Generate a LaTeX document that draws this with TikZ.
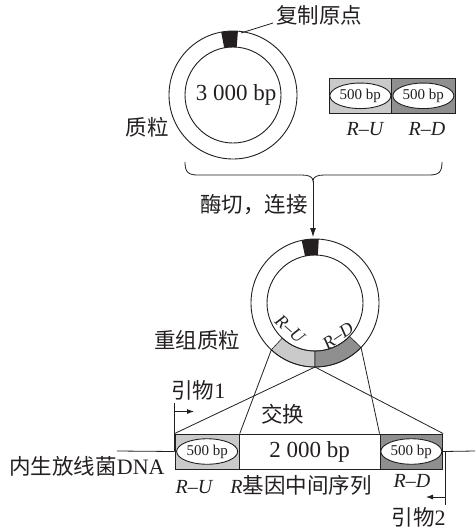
\documentclass[tikz,border=0pt]{standalone}
\usepackage{fontspec}
\setmainfont{Liberation Serif}
\newfontfamily\cjk{Noto Sans CJK SC}
\usetikzlibrary{shapes.geometric,calc,arrows.meta}
\definecolor{lg}{HTML}{CACACA}
\definecolor{dg}{HTML}{8F8F8F}
\definecolor{ink}{HTML}{231F20}
\begin{document}
\begin{tikzpicture}[x=1pt,y=-1pt,line width=0.9pt,draw=ink,text=ink,
  cn/.style={font=\cjk\fontsize{21.5}{22}\selectfont,inner sep=0pt},
  lab/.style={font=\fontsize{20}{20}\selectfont\itshape,inner sep=0pt},
  ringlab/.style={font=\fontsize{18}{18}\selectfont\itshape,inner sep=0pt},
  big/.style={font=\fontsize{23}{23}\selectfont,inner sep=0pt},
  seg/.style={draw,rectangle,inner sep=0pt,minimum height=35pt},
  ell/.style={draw,ellipse,fill=white,inner sep=0pt,minimum width=61pt,minimum height=25.5pt,font=\fontsize{15}{15}\selectfont},
  tip/.style={-{Latex[length=7pt,width=5pt]}}]
\useasboundingbox (0,0) rectangle (475,531);

% ---------- original plasmid ----------
\coordinate (p1) at (233,95);
\fill[ink] ($(p1)+(-85.6:64)$) arc[start angle=-85.6,end angle=-100.6,radius=64]
  -- ($(p1)+(-100.6:48)$) arc[start angle=-100.6,end angle=-85.6,radius=48] -- cycle;
\draw (p1) circle[radius=64];
\draw (p1) circle[radius=48];
\node[big,anchor=base] (size1) at (236,100) {3 000 bp};
\node[cn,anchor=west] (orilab) at (276,15) {复制原点};
\coordinate (orifoot) at (273,23);
\coordinate (oritip) at (241,33);
\draw[line width=0.8pt] (orifoot) -- (oritip);
\node[cn] (plab) at (147,127) {质粒};

% ---------- R-U / R-D fragment ----------
\node[seg,fill=lg,minimum width=62.7pt] (tru) at (360.35,95.8) {};
\node[seg,fill=dg,minimum width=63.3pt] (trd) at (423.35,95.8) {};
\node[ell] (tre1) at (tru) {500 bp};
\node[ell] (tre2) at (trd) {500 bp};
\node[lab,anchor=base] (trul) at (365,135) {R–U};
\node[lab,anchor=base] (trdl) at (427,135) {R–D};

% ---------- brace and arrow ----------
\coordinate (bl) at (185,162);
\coordinate (br) at (442,162);
\coordinate (btip) at (313,181);
\draw[line width=0.8pt] (bl) .. controls (185,172) and (188,175) .. (198,175) -- (302,175)
  .. controls (309,175) and (313,177) .. (btip)
  .. controls (313,177) and (317,175) .. (324,175) -- (429,175)
  .. controls (439,175) and (442,172) .. (br);
\coordinate (atip) at (313,237);
\draw[line width=0.8pt,-{Latex[length=9pt,width=6pt]}] (btip) -- (atip);
\node[cn,anchor=east] (cut) at (308,205) {酶切，连接};

% ---------- recombinant plasmid ----------
\coordinate (p2) at (315,303);
\filldraw[fill=lg,line width=0.6pt] ($(p2)+(133:64)$) arc[start angle=133,end angle=90,radius=64]
  -- ($(p2)+(90:48)$) arc[start angle=90,end angle=133,radius=48] -- cycle;
\filldraw[fill=dg,line width=0.6pt] ($(p2)+(90:64)$) arc[start angle=90,end angle=44,radius=64]
  -- ($(p2)+(44:48)$) arc[start angle=44,end angle=90,radius=48] -- cycle;
\fill[ink] ($(p2)+(-86.6:64)$) arc[start angle=-86.6,end angle=-102,radius=64]
  -- ($(p2)+(-102:48)$) arc[start angle=-102,end angle=-86.6,radius=48] -- cycle;
\draw (p2) circle[radius=64];
\draw (p2) circle[radius=48];
\coordinate (ruL) at ($(p2)+(133:64)$);
\coordinate (bot) at ($(p2)+(90:64)$);
\coordinate (rdR) at ($(p2)+(44:64)$);
\node[ringlab,rotate=-42] (rru) at (290,329) {R–U};
\node[ringlab,rotate=34] (rrd) at (338,336) {R–D};
\node[cn] (rlab) at (197,340) {重组质粒};

% ---------- chromosomal region ----------
\node[seg,fill=lg,minimum width=64.3pt] (bru) at (207.15,451.5) {};
\node[seg,fill=white,minimum width=140.7pt,big] (bmid) at (309.65,451.5) {2 000 bp};
\node[seg,fill=dg,minimum width=62.7pt] (brd) at (411.35,451.5) {};
\node[ell] (bre1) at (bru) {500 bp};
\node[ell] (bre2) at (brd) {500 bp};

\draw[line width=0.8pt] (bru.north west) -- (bot) -- (brd.north east);
\draw[line width=0.8pt] (bru.north east) -- (ruL);
\draw[line width=0.8pt] (brd.north west) -- (rdR);

\coordinate (dnaL) at (117,451);
\coordinate (dnaR) at (475,451);
\draw[line width=0.8pt] (dnaL) -- (bru.west);
\draw[line width=0.8pt] (brd.east) -- (dnaR);

\node[cn] (swap) at (282.5,414) {交换};
\node[anchor=east,inner sep=0pt] (dna) at (165,466) {{\cjk\fontsize{21.5}{22}\selectfont 内生放线菌}\fontsize{22}{22}\selectfont DNA};

% primers
\coordinate (pr1a) at (174,403);
\coordinate (pr1b) at (174,451);
\coordinate (pr1c) at (174,411.5);
\coordinate (pr1d) at (194,411.5);
\draw[line width=0.8pt] (pr1a) -- (pr1b);
\draw[line width=0.8pt,tip] (pr1c) -- (pr1d);
\node[anchor=west,inner sep=0pt] (p1lab) at (171,390) {{\cjk\fontsize{21.5}{22}\selectfont 引物}\fontsize{22}{22}\selectfont 1};

\coordinate (pr2a) at (445,451);
\coordinate (pr2b) at (445,505);
\coordinate (pr2c) at (445,497);
\coordinate (pr2d) at (426,497);
\draw[line width=0.8pt] (pr2a) -- (pr2b);
\draw[line width=0.8pt,tip] (pr2c) -- (pr2d);
\node[anchor=east,inner sep=0pt] (p2lab) at (446,517) {{\cjk\fontsize{21.5}{22}\selectfont 引物}\fontsize{22}{22}\selectfont 2};

% labels under region
\node[lab,anchor=base] (bul) at (194,493) {R–U};
\node[anchor=base west,inner sep=0pt] (mid) at (230,493) {{\fontsize{20}{20}\selectfont\itshape R}{\cjk\fontsize{21.5}{22}\selectfont 基因中间序列}};
\node[lab,anchor=base] (bdl) at (412,487) {R–D};
\end{tikzpicture}
\end{document}
